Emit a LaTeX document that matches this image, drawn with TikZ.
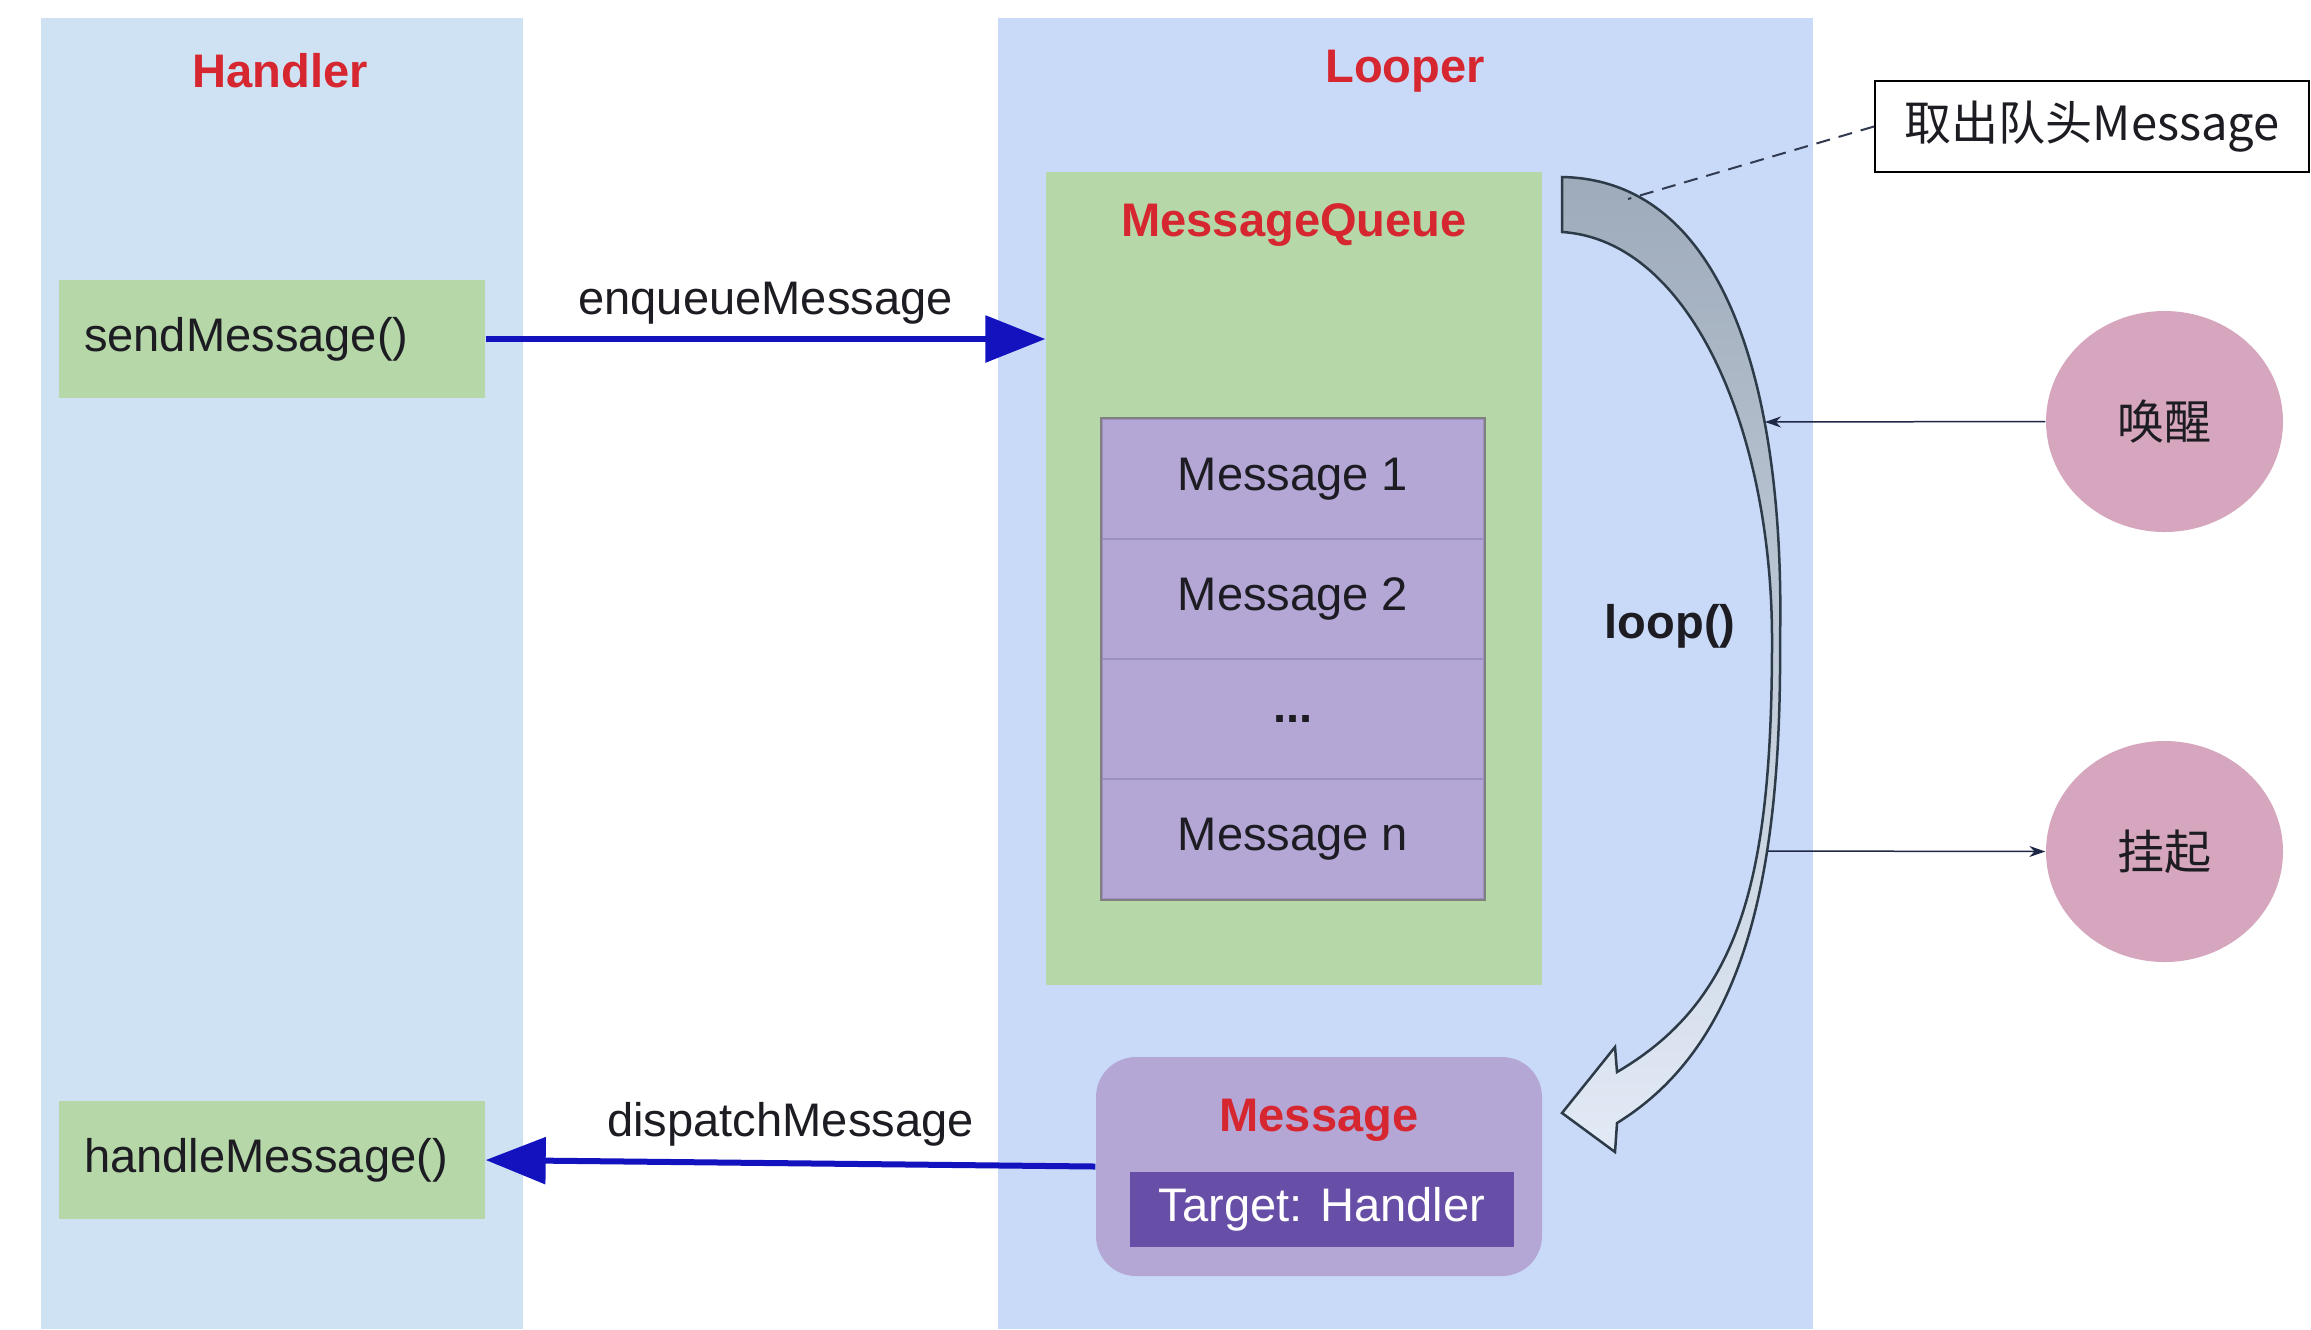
\documentclass[tikz,border=0pt]{standalone}
\usepackage{fontspec}
\setmainfont{Liberation Sans}
\newfontfamily\cjk{Noto Sans CJK SC}
\usepackage{tikz}
\usetikzlibrary{arrows.meta,shapes.geometric}

\definecolor{handlerbg}{HTML}{CFE2F3}
\definecolor{looperbg}{HTML}{C9DAF8}
\definecolor{callgreen}{HTML}{B6D7A8}
\definecolor{msgpurple}{HTML}{B4A7D6}
\definecolor{rowline}{HTML}{9A8FBE}
\definecolor{deeppurple}{HTML}{674EA7}
\definecolor{statepink}{HTML}{D5A6BD}
\definecolor{titlered}{RGB}{214,38,48}
\definecolor{arrowblue}{RGB}{18,18,190}
\definecolor{thinline}{RGB}{30,40,68}
\definecolor{bandedge}{RGB}{45,58,72}
\definecolor{txt}{RGB}{28,28,34}

\begin{document}
\begin{tikzpicture}[x=0.1mm,y=-0.1mm,
    every node/.style={font=\fontsize{13.4}{16}\selectfont,text=txt},
    lane/.style={fill=#1,minimum height=131.1mm},
    title/.style={font=\fontsize{13.4}{16}\selectfont\bfseries,text=titlered},
    callbox/.style={fill=callgreen,minimum width=42.6mm,minimum height=11.8mm,
      text width=37.6mm,inner xsep=2.5mm,align=left},
    msgrow/.style={fill=msgpurple,draw=rowline,line width=0.15mm,
      minimum width=38.2mm,minimum height=12mm},
    state/.style={ellipse,fill=statepink,minimum width=23.7mm,minimum height=22.1mm,
      font=\cjk\fontsize{13.4}{16}\selectfont},
    bigarrow/.style={draw=arrowblue,line width=0.6mm,-{Triangle[length=6mm,width=4.6mm]}},
    thinarrow/.style={draw=thinline,line width=0.15mm,-{Stealth[length=1.6mm,width=1.1mm]}}]
  \useasboundingbox (0,0) rectangle (2311,1329);
  % the two lanes
  \node[lane=handlerbg,minimum width=48.2mm] (handler) at (282,673.5) {};
  \node[lane=looperbg,minimum width=81.5mm] (looper) at (1405.5,673.5) {};
  \node[title] (handlertitle) at (280,71) {Handler};
  \node[title] (loopertitle) at (1405,71) {Looper};
  % handler calls
  \node[callbox] (send) at (272,339) {sendMessage()};
  \node[callbox] (handle) at (272,1160) {handleMessage()};
  % message queue with its stack of messages
  \node[fill=callgreen,minimum width=49.6mm,minimum height=81.3mm] (mq) at (1294,578.5) {};
  \node[title] (mqtitle) at (1294,225) {MessageQueue};
  \foreach \t [count=\i] in {Message 1,Message 2,\textbf{...},Message n}
    \node[msgrow] (row\i) at (1293,{359+120*\i}) {\t};
  \draw[gray,line width=0.2mm] (row1.north west) rectangle (row4.south east);
  % message taken from the head
  \node[fill=msgpurple,rounded corners=4mm,minimum width=44.6mm,minimum height=21.9mm] (msg) at (1319,1166.5) {};
  \node[title] (msgtitle) at (1319,1120) {Message};
  \node[fill=deeppurple,text=white,minimum width=38.4mm,minimum height=7.5mm] (target) at (1322,1209.5) {Target: Handler};
  % enqueue and dispatch
  \draw[bigarrow] (send.east) -- (send.east -| mq.west)
    node[midway,yshift=3.6mm] (enq) {enqueueMessage};
  \draw[bigarrow] (msg.west) -- (handle.east)
    node[midway,yshift=3.9mm] (disp) {dispatchMessage};
  % loop(): curved band arrow
  \draw[bandedge,line width=0.25mm,top color={rgb,255:red,158;green,171;blue,186},
      bottom color={rgb,255:red,226;green,234;blue,246}]
    (1562,177) .. controls (1730,180) and (1785,400) .. (1780,640)
    .. controls (1782,900) and (1735,1050) .. (1617,1123)
    -- (1615,1152) -- (1562,1113) -- (1615,1047) -- (1617,1072)
    .. controls (1740,1000) and (1772,880) .. (1772,640)
    .. controls (1772,430) and (1690,240) .. (1562,232) -- cycle;
  \node[font=\fontsize{13.4}{16}\selectfont\bfseries] (loop) at (1670,626) {loop()};
  \coordinate (head) at (1628,199);
  \coordinate (wakein) at (1765,422);
  \coordinate (hangout) at (1768,851);
  % note and states
  \node[draw=black,line width=0.2mm,fill=white,minimum width=43.4mm,minimum height=9.1mm,
    font=\cjk\fontsize{13.4}{16}\selectfont] (note) at (2092,126.5) {取出队头Message};
  \draw[thinline!80!gray,line width=0.2mm,dash pattern=on 1.4mm off 0.9mm] (note.west) -- (head);
  \node[state] (wake) at (2164.5,421.5) {唤醒};
  \node[state] (hang) at (2164.5,851.5) {挂起};
  \draw[thinarrow] (wake.west) -- (wakein);
  \draw[thinarrow] (hangout) -- (hang.west);
\end{tikzpicture}
\end{document}
